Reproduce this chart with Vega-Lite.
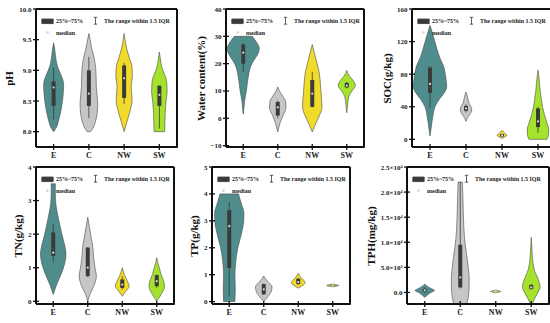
{
"$schema": "https://vega.github.io/schema/vega-lite/v6.json",
"padding": {"left": 3, "top": 4, "right": 4, "bottom": 2},
"datasets": {
"vio": [
{"p":"pH","g":"E","v":8.0,"d":0},{"p":"pH","g":"E","v":8.05,"d":0.12},{"p":"pH","g":"E","v":8.2,"d":0.3},{"p":"pH","g":"E","v":8.4,"d":0.45},{"p":"pH","g":"E","v":8.6,"d":0.54},{"p":"pH","g":"E","v":8.75,"d":0.57},{"p":"pH","g":"E","v":8.85,"d":0.52},{"p":"pH","g":"E","v":8.95,"d":0.38},{"p":"pH","g":"E","v":9.05,"d":0.24},{"p":"pH","g":"E","v":9.15,"d":0.15},{"p":"pH","g":"E","v":9.25,"d":0.1},{"p":"pH","g":"E","v":9.35,"d":0.06},{"p":"pH","g":"E","v":9.45,"d":0},
{"p":"pH","g":"C","v":8.0,"d":0.1},{"p":"pH","g":"C","v":8.05,"d":0.22},{"p":"pH","g":"C","v":8.15,"d":0.36},{"p":"pH","g":"C","v":8.3,"d":0.47},{"p":"pH","g":"C","v":8.45,"d":0.5},{"p":"pH","g":"C","v":8.6,"d":0.46},{"p":"pH","g":"C","v":8.75,"d":0.42},{"p":"pH","g":"C","v":8.9,"d":0.41},{"p":"pH","g":"C","v":9.05,"d":0.38},{"p":"pH","g":"C","v":9.2,"d":0.3},{"p":"pH","g":"C","v":9.35,"d":0.17},{"p":"pH","g":"C","v":9.5,"d":0.07},{"p":"pH","g":"C","v":9.6,"d":0},
{"p":"pH","g":"NW","v":8.0,"d":0},{"p":"pH","g":"NW","v":8.15,"d":0.15},{"p":"pH","g":"NW","v":8.35,"d":0.35},{"p":"pH","g":"NW","v":8.5,"d":0.45},{"p":"pH","g":"NW","v":8.65,"d":0.42},{"p":"pH","g":"NW","v":8.75,"d":0.4},{"p":"pH","g":"NW","v":8.9,"d":0.47},{"p":"pH","g":"NW","v":9.05,"d":0.45},{"p":"pH","g":"NW","v":9.2,"d":0.3},{"p":"pH","g":"NW","v":9.35,"d":0.15},{"p":"pH","g":"NW","v":9.5,"d":0.05},{"p":"pH","g":"NW","v":9.6,"d":0},
{"p":"pH","g":"SW","v":8.0,"d":0.3},{"p":"pH","g":"SW","v":8.1,"d":0.31},{"p":"pH","g":"SW","v":8.3,"d":0.33},{"p":"pH","g":"SW","v":8.5,"d":0.38},{"p":"pH","g":"SW","v":8.65,"d":0.44},{"p":"pH","g":"SW","v":8.8,"d":0.42},{"p":"pH","g":"SW","v":8.9,"d":0.34},{"p":"pH","g":"SW","v":9.0,"d":0.2},{"p":"pH","g":"SW","v":9.1,"d":0.1},{"p":"pH","g":"SW","v":9.2,"d":0.05},{"p":"pH","g":"SW","v":9.3,"d":0},
{"p":"W","g":"E","v":1.5,"d":0},{"p":"W","g":"E","v":3,"d":0.03},{"p":"W","g":"E","v":6,"d":0.07},{"p":"W","g":"E","v":10,"d":0.18},{"p":"W","g":"E","v":13,"d":0.24},{"p":"W","g":"E","v":15,"d":0.29},{"p":"W","g":"E","v":18,"d":0.38},{"p":"W","g":"E","v":20,"d":0.5},{"p":"W","g":"E","v":22,"d":0.7},{"p":"W","g":"E","v":24,"d":0.88},{"p":"W","g":"E","v":25.5,"d":0.93},{"p":"W","g":"E","v":27,"d":0.85},{"p":"W","g":"E","v":28.5,"d":0.7},{"p":"W","g":"E","v":30,"d":0.52},
{"p":"W","g":"C","v":-5,"d":0},{"p":"W","g":"C","v":-2,"d":0.12},{"p":"W","g":"C","v":1,"d":0.3},{"p":"W","g":"C","v":4,"d":0.48},{"p":"W","g":"C","v":6,"d":0.46},{"p":"W","g":"C","v":8,"d":0.3},{"p":"W","g":"C","v":10,"d":0.1},{"p":"W","g":"C","v":11.5,"d":0},
{"p":"W","g":"NW","v":-5,"d":0},{"p":"W","g":"NW","v":-2,"d":0.2},{"p":"W","g":"NW","v":1,"d":0.42},{"p":"W","g":"NW","v":4,"d":0.56},{"p":"W","g":"NW","v":8,"d":0.53},{"p":"W","g":"NW","v":12,"d":0.48},{"p":"W","g":"NW","v":16,"d":0.42},{"p":"W","g":"NW","v":19,"d":0.32},{"p":"W","g":"NW","v":22,"d":0.2},{"p":"W","g":"NW","v":24.5,"d":0.1},{"p":"W","g":"NW","v":27,"d":0},
{"p":"W","g":"SW","v":2,"d":0},{"p":"W","g":"SW","v":5,"d":0.05},{"p":"W","g":"SW","v":8,"d":0.12},{"p":"W","g":"SW","v":10,"d":0.3},{"p":"W","g":"SW","v":12,"d":0.5},{"p":"W","g":"SW","v":14,"d":0.35},{"p":"W","g":"SW","v":15.5,"d":0.15},{"p":"W","g":"SW","v":17.5,"d":0},
{"p":"SOC","g":"E","v":4,"d":0},{"p":"SOC","g":"E","v":10,"d":0.04},{"p":"SOC","g":"E","v":20,"d":0.1},{"p":"SOC","g":"E","v":30,"d":0.17},{"p":"SOC","g":"E","v":40,"d":0.28},{"p":"SOC","g":"E","v":50,"d":0.55},{"p":"SOC","g":"E","v":58,"d":0.82},{"p":"SOC","g":"E","v":65,"d":0.93},{"p":"SOC","g":"E","v":72,"d":0.9},{"p":"SOC","g":"E","v":80,"d":0.85},{"p":"SOC","g":"E","v":90,"d":0.75},{"p":"SOC","g":"E","v":100,"d":0.55},{"p":"SOC","g":"E","v":110,"d":0.4},{"p":"SOC","g":"E","v":120,"d":0.27},{"p":"SOC","g":"E","v":130,"d":0.14},{"p":"SOC","g":"E","v":140,"d":0},
{"p":"SOC","g":"C","v":22,"d":0},{"p":"SOC","g":"C","v":27,"d":0.1},{"p":"SOC","g":"C","v":32,"d":0.25},{"p":"SOC","g":"C","v":36,"d":0.32},{"p":"SOC","g":"C","v":40,"d":0.28},{"p":"SOC","g":"C","v":44,"d":0.18},{"p":"SOC","g":"C","v":50,"d":0.1},{"p":"SOC","g":"C","v":55,"d":0.05},{"p":"SOC","g":"C","v":58,"d":0},
{"p":"SOC","g":"NW","v":1,"d":0},{"p":"SOC","g":"NW","v":3,"d":0.15},{"p":"SOC","g":"NW","v":5,"d":0.28},{"p":"SOC","g":"NW","v":7,"d":0.18},{"p":"SOC","g":"NW","v":9,"d":0.08},{"p":"SOC","g":"NW","v":11,"d":0},
{"p":"SOC","g":"SW","v":0,"d":0.5},{"p":"SOC","g":"SW","v":5,"d":0.58},{"p":"SOC","g":"SW","v":12,"d":0.6},{"p":"SOC","g":"SW","v":20,"d":0.5},{"p":"SOC","g":"SW","v":30,"d":0.36},{"p":"SOC","g":"SW","v":40,"d":0.25},{"p":"SOC","g":"SW","v":50,"d":0.18},{"p":"SOC","g":"SW","v":60,"d":0.12},{"p":"SOC","g":"SW","v":70,"d":0.08},{"p":"SOC","g":"SW","v":80,"d":0.03},{"p":"SOC","g":"SW","v":85,"d":0},
{"p":"TN","g":"E","v":0.2,"d":0},{"p":"TN","g":"E","v":0.5,"d":0.2},{"p":"TN","g":"E","v":0.8,"d":0.45},{"p":"TN","g":"E","v":1.1,"d":0.65},{"p":"TN","g":"E","v":1.4,"d":0.74},{"p":"TN","g":"E","v":1.7,"d":0.65},{"p":"TN","g":"E","v":2.0,"d":0.5},{"p":"TN","g":"E","v":2.3,"d":0.37},{"p":"TN","g":"E","v":2.6,"d":0.25},{"p":"TN","g":"E","v":2.9,"d":0.15},{"p":"TN","g":"E","v":3.2,"d":0.12},{"p":"TN","g":"E","v":3.5,"d":0.12},
{"p":"TN","g":"C","v":0,"d":0},{"p":"TN","g":"C","v":0.2,"d":0.12},{"p":"TN","g":"C","v":0.45,"d":0.35},{"p":"TN","g":"C","v":0.75,"d":0.5},{"p":"TN","g":"C","v":1.0,"d":0.42},{"p":"TN","g":"C","v":1.3,"d":0.34},{"p":"TN","g":"C","v":1.6,"d":0.3},{"p":"TN","g":"C","v":1.9,"d":0.2},{"p":"TN","g":"C","v":2.2,"d":0.1},{"p":"TN","g":"C","v":2.5,"d":0},
{"p":"TN","g":"NW","v":0.15,"d":0},{"p":"TN","g":"NW","v":0.3,"d":0.2},{"p":"TN","g":"NW","v":0.45,"d":0.4},{"p":"TN","g":"NW","v":0.6,"d":0.3},{"p":"TN","g":"NW","v":0.8,"d":0.12},{"p":"TN","g":"NW","v":1.0,"d":0},
{"p":"TN","g":"SW","v":0,"d":0},{"p":"TN","g":"SW","v":0.2,"d":0.25},{"p":"TN","g":"SW","v":0.45,"d":0.45},{"p":"TN","g":"SW","v":0.6,"d":0.4},{"p":"TN","g":"SW","v":0.8,"d":0.25},{"p":"TN","g":"SW","v":1.0,"d":0.15},{"p":"TN","g":"SW","v":1.15,"d":0.06},{"p":"TN","g":"SW","v":1.3,"d":0},
{"p":"TP","g":"E","v":0,"d":0.33},{"p":"TP","g":"E","v":0.5,"d":0.35},{"p":"TP","g":"E","v":1.0,"d":0.33},{"p":"TP","g":"E","v":1.5,"d":0.38},{"p":"TP","g":"E","v":2.0,"d":0.5},{"p":"TP","g":"E","v":2.5,"d":0.7},{"p":"TP","g":"E","v":3.0,"d":0.84},{"p":"TP","g":"E","v":3.3,"d":0.85},{"p":"TP","g":"E","v":3.6,"d":0.72},{"p":"TP","g":"E","v":3.85,"d":0.6},{"p":"TP","g":"E","v":4.0,"d":0.54},
{"p":"TP","g":"C","v":0,"d":0},{"p":"TP","g":"C","v":0.15,"d":0.2},{"p":"TP","g":"C","v":0.4,"d":0.45},{"p":"TP","g":"C","v":0.55,"d":0.48},{"p":"TP","g":"C","v":0.7,"d":0.3},{"p":"TP","g":"C","v":0.85,"d":0.1},{"p":"TP","g":"C","v":0.95,"d":0},
{"p":"TP","g":"NW","v":0.5,"d":0},{"p":"TP","g":"NW","v":0.6,"d":0.25},{"p":"TP","g":"NW","v":0.7,"d":0.4},{"p":"TP","g":"NW","v":0.8,"d":0.3},{"p":"TP","g":"NW","v":0.9,"d":0.15},{"p":"TP","g":"NW","v":1.05,"d":0},
{"p":"TP","g":"SW","v":0.55,"d":0},{"p":"TP","g":"SW","v":0.58,"d":0.25},{"p":"TP","g":"SW","v":0.6,"d":0.35},{"p":"TP","g":"SW","v":0.62,"d":0.25},{"p":"TP","g":"SW","v":0.65,"d":0},
{"p":"TPH","g":"E","v":-1000,"d":0},{"p":"TPH","g":"E","v":-500,"d":0.15},{"p":"TPH","g":"E","v":0,"d":0.35},{"p":"TPH","g":"E","v":400,"d":0.55},{"p":"TPH","g":"E","v":800,"d":0.35},{"p":"TPH","g":"E","v":1200,"d":0.15},{"p":"TPH","g":"E","v":1700,"d":0},
{"p":"TPH","g":"C","v":-2300,"d":0.37},{"p":"TPH","g":"C","v":-1000,"d":0.45},{"p":"TPH","g":"C","v":1000,"d":0.5},{"p":"TPH","g":"C","v":3000,"d":0.5},{"p":"TPH","g":"C","v":5000,"d":0.45},{"p":"TPH","g":"C","v":7000,"d":0.38},{"p":"TPH","g":"C","v":9000,"d":0.3},{"p":"TPH","g":"C","v":11000,"d":0.24},{"p":"TPH","g":"C","v":13000,"d":0.2},{"p":"TPH","g":"C","v":16000,"d":0.17},{"p":"TPH","g":"C","v":19000,"d":0.15},{"p":"TPH","g":"C","v":22000,"d":0.12},
{"p":"TPH","g":"NW","v":-100,"d":0},{"p":"TPH","g":"NW","v":100,"d":0.2},{"p":"TPH","g":"NW","v":200,"d":0.3},{"p":"TPH","g":"NW","v":300,"d":0.2},{"p":"TPH","g":"NW","v":500,"d":0},
{"p":"TPH","g":"SW","v":-2300,"d":0.05},{"p":"TPH","g":"SW","v":-1500,"d":0.15},{"p":"TPH","g":"SW","v":-500,"d":0.3},{"p":"TPH","g":"SW","v":500,"d":0.45},{"p":"TPH","g":"SW","v":1200,"d":0.5},{"p":"TPH","g":"SW","v":2000,"d":0.45},{"p":"TPH","g":"SW","v":3000,"d":0.35},{"p":"TPH","g":"SW","v":4000,"d":0.22},{"p":"TPH","g":"SW","v":5000,"d":0.14},{"p":"TPH","g":"SW","v":6500,"d":0.08},{"p":"TPH","g":"SW","v":8500,"d":0.04},{"p":"TPH","g":"SW","v":11000,"d":0}
],
"stat": [
{"p":"pH","g":"E","lo":8.2,"q1":8.42,"med":8.72,"q3":8.82,"hi":9.05},
{"p":"pH","g":"C","lo":8.22,"q1":8.42,"med":8.62,"q3":9.0,"hi":9.22},
{"p":"pH","g":"NW","lo":8.45,"q1":8.55,"med":8.87,"q3":9.08,"hi":9.12},
{"p":"pH","g":"SW","lo":8.05,"q1":8.42,"med":8.6,"q3":8.75,"hi":8.75},
{"p":"W","g":"E","lo":17,"q1":20,"med":24,"q3":27,"hi":27.5},
{"p":"W","g":"C","lo":0,"q1":1,"med":4,"q3":6,"hi":6.5},
{"p":"W","g":"NW","lo":4,"q1":4.2,"med":9,"q3":14,"hi":17},
{"p":"W","g":"SW","lo":11,"q1":11.3,"med":12,"q3":13,"hi":13.2},
{"p":"SOC","g":"E","lo":38,"q1":57,"med":68,"q3":88,"hi":90},
{"p":"SOC","g":"C","lo":33,"q1":35,"med":38,"q3":41,"hi":43},
{"p":"SOC","g":"NW","lo":3,"q1":3.5,"med":5,"q3":6.5,"hi":7},
{"p":"SOC","g":"SW","lo":8,"q1":15,"med":22,"q3":38,"hi":40},
{"p":"TN","g":"E","lo":1.15,"q1":1.35,"med":1.45,"q3":2.05,"hi":2.3},
{"p":"TN","g":"C","lo":0.72,"q1":0.75,"med":1.0,"q3":1.6,"hi":1.62},
{"p":"TN","g":"NW","lo":0.35,"q1":0.4,"med":0.5,"q3":0.65,"hi":0.75},
{"p":"TN","g":"SW","lo":0.4,"q1":0.45,"med":0.6,"q3":0.78,"hi":0.8},
{"p":"TP","g":"E","lo":0.2,"q1":1.25,"med":2.8,"q3":3.4,"hi":3.7},
{"p":"TP","g":"C","lo":0.25,"q1":0.27,"med":0.45,"q3":0.65,"hi":0.67},
{"p":"TP","g":"NW","lo":0.62,"q1":0.65,"med":0.72,"q3":0.85,"hi":0.87},
{"p":"TP","g":"SW","lo":0.59,"q1":0.595,"med":0.6,"q3":0.61,"hi":0.615},
{"p":"TPH","g":"E","lo":-200,"q1":100,"med":400,"q3":700,"hi":1000},
{"p":"TPH","g":"C","lo":800,"q1":1000,"med":3000,"q3":9500,"hi":22000},
{"p":"TPH","g":"NW","lo":150,"q1":180,"med":200,"q3":230,"hi":250},
{"p":"TPH","g":"SW","lo":500,"q1":700,"med":1000,"q3":1500,"hi":1700}
]
},
"resolve": {"scale": {"color": "independent"}, "legend": {"color": "independent"}},
"spacing": 2,
"vconcat": [
{"spacing": 15, "hconcat": [
{"width": 141, "height": 138,
 "resolve": {"scale": {"x": "independent"}, "axis": {"x": "independent"}},
 "layer": [
  {"data": {"name": "vio"}, "transform": [{"filter": "datum.p==='pH' && datum.g==='E'"}], "mark": {"type": "area", "orient": "horizontal", "interpolate": "monotone", "fill": "#4f8d8d", "stroke": "#4a4a4a", "strokeWidth": 0.6, "clip": true},
   "encoding": {"x": {"field": "d", "type": "quantitative", "stack": "center", "scale": {"domain": [-0.215, 3.785], "nice": false, "zero": false}, "axis": null},
    "y": {"field": "v", "type": "quantitative", "scale": {"domain": [7.75, 10], "nice": false, "zero": false}, "axis": {"title": "pH", "values": [8, 8.5, 9, 9.5, 10], "format": ".1f"}}}},
  {"data": {"name": "vio"}, "transform": [{"filter": "datum.p==='pH' && datum.g==='C'"}], "mark": {"type": "area", "orient": "horizontal", "interpolate": "monotone", "fill": "#c6c6c6", "stroke": "#4a4a4a", "strokeWidth": 0.6, "clip": true},
   "encoding": {"x": {"field": "d", "type": "quantitative", "stack": "center", "scale": {"domain": [-1.25, 2.75], "nice": false, "zero": false}, "axis": null},
    "y": {"field": "v", "type": "quantitative", "scale": {"domain": [7.75, 10], "nice": false, "zero": false}, "axis": {"title": "pH", "values": [8, 8.5, 9, 9.5, 10], "format": ".1f"}}}},
  {"data": {"name": "vio"}, "transform": [{"filter": "datum.p==='pH' && datum.g==='NW'"}], "mark": {"type": "area", "orient": "horizontal", "interpolate": "monotone", "fill": "#f0da2a", "stroke": "#4a4a4a", "strokeWidth": 0.6, "clip": true},
   "encoding": {"x": {"field": "d", "type": "quantitative", "stack": "center", "scale": {"domain": [-2.265, 1.735], "nice": false, "zero": false}, "axis": null},
    "y": {"field": "v", "type": "quantitative", "scale": {"domain": [7.75, 10], "nice": false, "zero": false}, "axis": {"title": "pH", "values": [8, 8.5, 9, 9.5, 10], "format": ".1f"}}}},
  {"data": {"name": "vio"}, "transform": [{"filter": "datum.p==='pH' && datum.g==='SW'"}], "mark": {"type": "area", "orient": "horizontal", "interpolate": "monotone", "fill": "#a4e22c", "stroke": "#4a4a4a", "strokeWidth": 0.6, "clip": true},
   "encoding": {"x": {"field": "d", "type": "quantitative", "stack": "center", "scale": {"domain": [-3.28, 0.72], "nice": false, "zero": false}, "axis": null},
    "y": {"field": "v", "type": "quantitative", "scale": {"domain": [7.75, 10], "nice": false, "zero": false}, "axis": {"title": "pH", "values": [8, 8.5, 9, 9.5, 10], "format": ".1f"}}}},
  {"data": {"name": "stat"}, "transform": [{"filter": "datum.p==='pH'"}],
   "encoding": {"x": {"field": "g", "type": "nominal", "scale": {"type": "band", "domain": ["E", "C", "NW", "SW"], "paddingInner": 0, "paddingOuter": 0}, "axis": {"title": null}}},
   "layer": [
    {"mark": {"type": "rule", "strokeWidth": 0.8}, "encoding": {"y": {"field": "lo", "type": "quantitative", "scale": {"domain": [7.75, 10], "nice": false, "zero": false}, "axis": {"title": "pH", "values": [8, 8.5, 9, 9.5, 10], "format": ".1f"}}, "y2": {"field": "hi"},
      "color": {"datum": "The range within 1.5 IQR", "type": "nominal", "scale": {"domain": ["25%~75%", "The range within 1.5 IQR", "median"], "range": ["#3a3a3a", "#3a3a3a", "#d8d8d8"]},
       "legend": {"title": null, "encode": {"symbols": {"update": {"shape": {"signal": "datum.label === 'median' ? 'circle' : datum.label === '25%~75%' ? 'M-1,-0.4H1V0.4H-1Z' : 'M0,-0.6V0.6M-0.3,-0.6H0.3M-0.3,0.6H0.3'"}, "size": {"signal": "datum.label === 'median' ? 5 : 130"}, "fill": {"signal": "datum.label === 'The range within 1.5 IQR' ? 'transparent' : datum.label === 'median' ? '#aaaaaa' : '#3a3a3a'"}, "stroke": {"signal": "datum.label === 'median' ? '#aaaaaa' : '#3a3a3a'"}, "strokeWidth": {"value": 0.8}, "opacity": {"value": 1}}}}}}}},
    {"mark": {"type": "bar", "width": 4}, "encoding": {"y": {"field": "q1", "type": "quantitative", "scale": {"domain": [7.75, 10], "nice": false, "zero": false}, "axis": {"title": "pH", "values": [8, 8.5, 9, 9.5, 10], "format": ".1f"}}, "y2": {"field": "q3"}, "color": {"datum": "25%~75%", "type": "nominal"}}},
    {"mark": {"type": "point", "filled": true, "size": 5, "opacity": 1}, "encoding": {"y": {"field": "med", "type": "quantitative", "scale": {"domain": [7.75, 10], "nice": false, "zero": false}, "axis": {"title": "pH", "values": [8, 8.5, 9, 9.5, 10], "format": ".1f"}}, "color": {"datum": "median", "type": "nominal"}}},
    {"mark": {"type": "tick", "orient": "vertical", "size": 6, "thickness": 1.3, "color": "#111111", "opacity": 1}, "encoding": {"y": {"datum": 7.75, "type": "quantitative", "scale": {"domain": [7.75, 10], "nice": false, "zero": false}, "axis": {"title": "pH", "values": [8, 8.5, 9, 9.5, 10], "format": ".1f"}}}}
   ]},
  {"data": {"name": "stat"}, "transform": [{"filter": "datum.p==='pH'"}],
   "encoding": {"x": {"datum": 0, "type": "quantitative", "scale": {"domain": [0, 1], "nice": false, "zero": false}, "axis": null}},
   "layer": [
    {"mark": {"type": "rule", "color": "#111111", "strokeWidth": 1.8}, "encoding": {"x2": {"datum": 1}, "y": {"datum": 10, "type": "quantitative", "scale": {"domain": [7.75, 10], "nice": false, "zero": false}, "axis": {"title": "pH", "values": [8, 8.5, 9, 9.5, 10], "format": ".1f"}}}},
    {"mark": {"type": "rule", "color": "#111111", "strokeWidth": 1.8}, "encoding": {"x2": {"datum": 1}, "y": {"datum": 7.75, "type": "quantitative", "scale": {"domain": [7.75, 10], "nice": false, "zero": false}, "axis": {"title": "pH", "values": [8, 8.5, 9, 9.5, 10], "format": ".1f"}}}},
    {"mark": {"type": "rule", "color": "#111111", "strokeWidth": 1.8}, "encoding": {"y": {"datum": 7.75, "type": "quantitative", "scale": {"domain": [7.75, 10], "nice": false, "zero": false}, "axis": {"title": "pH", "values": [8, 8.5, 9, 9.5, 10], "format": ".1f"}}, "y2": {"datum": 10}}},
    {"mark": {"type": "rule", "color": "#111111", "strokeWidth": 1.8}, "encoding": {"x": {"datum": 1, "type": "quantitative", "scale": {"domain": [0, 1], "nice": false, "zero": false}, "axis": null}, "y": {"datum": 7.75, "type": "quantitative", "scale": {"domain": [7.75, 10], "nice": false, "zero": false}, "axis": {"title": "pH", "values": [8, 8.5, 9, 9.5, 10], "format": ".1f"}}, "y2": {"datum": 10}}},
    {"data": {"values": [{"t": 8}, {"t": 8.5}, {"t": 9}, {"t": 9.5}, {"t": 10}]}, "transform": [], "mark": {"type": "tick", "orient": "horizontal", "size": 6, "thickness": 1.3, "color": "#111111", "opacity": 1}, "encoding": {"y": {"field": "t", "type": "quantitative", "scale": {"domain": [7.75, 10], "nice": false, "zero": false}, "axis": {"title": "pH", "values": [8, 8.5, 9, 9.5, 10], "format": ".1f"}}}}
   ]}
 ]},
{"width": 138, "height": 138,
 "resolve": {"scale": {"x": "independent"}, "axis": {"x": "independent"}},
 "layer": [
  {"data": {"name": "vio"}, "transform": [{"filter": "datum.p==='W' && datum.g==='E'"}], "mark": {"type": "area", "orient": "horizontal", "interpolate": "monotone", "fill": "#4f8d8d", "stroke": "#4a4a4a", "strokeWidth": 0.6, "clip": true},
   "encoding": {"x": {"field": "d", "type": "quantitative", "stack": "center", "scale": {"domain": [-0.035, 3.965], "nice": false, "zero": false}, "axis": null},
    "y": {"field": "v", "type": "quantitative", "scale": {"domain": [-10.5, 40], "nice": false, "zero": false}, "axis": {"title": "Water content(%)", "values": [-10, 0, 10, 20, 30, 40]}}}},
  {"data": {"name": "vio"}, "transform": [{"filter": "datum.p==='W' && datum.g==='C'"}], "mark": {"type": "area", "orient": "horizontal", "interpolate": "monotone", "fill": "#c6c6c6", "stroke": "#4a4a4a", "strokeWidth": 0.6, "clip": true},
   "encoding": {"x": {"field": "d", "type": "quantitative", "stack": "center", "scale": {"domain": [-1.26, 2.74], "nice": false, "zero": false}, "axis": null},
    "y": {"field": "v", "type": "quantitative", "scale": {"domain": [-10.5, 40], "nice": false, "zero": false}, "axis": {"title": "Water content(%)", "values": [-10, 0, 10, 20, 30, 40]}}}},
  {"data": {"name": "vio"}, "transform": [{"filter": "datum.p==='W' && datum.g==='NW'"}], "mark": {"type": "area", "orient": "horizontal", "interpolate": "monotone", "fill": "#f0da2a", "stroke": "#4a4a4a", "strokeWidth": 0.6, "clip": true},
   "encoding": {"x": {"field": "d", "type": "quantitative", "stack": "center", "scale": {"domain": [-2.22, 1.78], "nice": false, "zero": false}, "axis": null},
    "y": {"field": "v", "type": "quantitative", "scale": {"domain": [-10.5, 40], "nice": false, "zero": false}, "axis": {"title": "Water content(%)", "values": [-10, 0, 10, 20, 30, 40]}}}},
  {"data": {"name": "vio"}, "transform": [{"filter": "datum.p==='W' && datum.g==='SW'"}], "mark": {"type": "area", "orient": "horizontal", "interpolate": "monotone", "fill": "#a4e22c", "stroke": "#4a4a4a", "strokeWidth": 0.6, "clip": true},
   "encoding": {"x": {"field": "d", "type": "quantitative", "stack": "center", "scale": {"domain": [-3.25, 0.75], "nice": false, "zero": false}, "axis": null},
    "y": {"field": "v", "type": "quantitative", "scale": {"domain": [-10.5, 40], "nice": false, "zero": false}, "axis": {"title": "Water content(%)", "values": [-10, 0, 10, 20, 30, 40]}}}},
  {"data": {"name": "stat"}, "transform": [{"filter": "datum.p==='W'"}],
   "encoding": {"x": {"field": "g", "type": "nominal", "scale": {"type": "band", "domain": ["E", "C", "NW", "SW"], "paddingInner": 0, "paddingOuter": 0}, "axis": {"title": null}}},
   "layer": [
    {"mark": {"type": "rule", "strokeWidth": 0.8}, "encoding": {"y": {"field": "lo", "type": "quantitative", "scale": {"domain": [-10.5, 40], "nice": false, "zero": false}, "axis": {"title": "Water content(%)", "values": [-10, 0, 10, 20, 30, 40]}}, "y2": {"field": "hi"},
      "color": {"datum": "The range within 1.5 IQR", "type": "nominal", "scale": {"domain": ["25%~75%", "The range within 1.5 IQR", "median"], "range": ["#3a3a3a", "#3a3a3a", "#d8d8d8"]},
       "legend": {"title": null, "encode": {"symbols": {"update": {"shape": {"signal": "datum.label === 'median' ? 'circle' : datum.label === '25%~75%' ? 'M-1,-0.4H1V0.4H-1Z' : 'M0,-0.6V0.6M-0.3,-0.6H0.3M-0.3,0.6H0.3'"}, "size": {"signal": "datum.label === 'median' ? 5 : 130"}, "fill": {"signal": "datum.label === 'The range within 1.5 IQR' ? 'transparent' : datum.label === 'median' ? '#aaaaaa' : '#3a3a3a'"}, "stroke": {"signal": "datum.label === 'median' ? '#aaaaaa' : '#3a3a3a'"}, "strokeWidth": {"value": 0.8}, "opacity": {"value": 1}}}}}}}},
    {"mark": {"type": "bar", "width": 4}, "encoding": {"y": {"field": "q1", "type": "quantitative", "scale": {"domain": [-10.5, 40], "nice": false, "zero": false}, "axis": {"title": "Water content(%)", "values": [-10, 0, 10, 20, 30, 40]}}, "y2": {"field": "q3"}, "color": {"datum": "25%~75%", "type": "nominal"}}},
    {"mark": {"type": "point", "filled": true, "size": 5, "opacity": 1}, "encoding": {"y": {"field": "med", "type": "quantitative", "scale": {"domain": [-10.5, 40], "nice": false, "zero": false}, "axis": {"title": "Water content(%)", "values": [-10, 0, 10, 20, 30, 40]}}, "color": {"datum": "median", "type": "nominal"}}},
    {"mark": {"type": "tick", "orient": "vertical", "size": 6, "thickness": 1.3, "color": "#111111", "opacity": 1}, "encoding": {"y": {"datum": -10.5, "type": "quantitative", "scale": {"domain": [-10.5, 40], "nice": false, "zero": false}, "axis": {"title": "Water content(%)", "values": [-10, 0, 10, 20, 30, 40]}}}}
   ]},
  {"data": {"name": "stat"}, "transform": [{"filter": "datum.p==='W'"}],
   "encoding": {"x": {"datum": 0, "type": "quantitative", "scale": {"domain": [0, 1], "nice": false, "zero": false}, "axis": null}},
   "layer": [
    {"mark": {"type": "rule", "color": "#111111", "strokeWidth": 1.8}, "encoding": {"x2": {"datum": 1}, "y": {"datum": 40, "type": "quantitative", "scale": {"domain": [-10.5, 40], "nice": false, "zero": false}, "axis": {"title": "Water content(%)", "values": [-10, 0, 10, 20, 30, 40]}}}},
    {"mark": {"type": "rule", "color": "#111111", "strokeWidth": 1.8}, "encoding": {"x2": {"datum": 1}, "y": {"datum": -10.5, "type": "quantitative", "scale": {"domain": [-10.5, 40], "nice": false, "zero": false}, "axis": {"title": "Water content(%)", "values": [-10, 0, 10, 20, 30, 40]}}}},
    {"mark": {"type": "rule", "color": "#111111", "strokeWidth": 1.8}, "encoding": {"y": {"datum": -10.5, "type": "quantitative", "scale": {"domain": [-10.5, 40], "nice": false, "zero": false}, "axis": {"title": "Water content(%)", "values": [-10, 0, 10, 20, 30, 40]}}, "y2": {"datum": 40}}},
    {"mark": {"type": "rule", "color": "#111111", "strokeWidth": 1.8}, "encoding": {"x": {"datum": 1, "type": "quantitative", "scale": {"domain": [0, 1], "nice": false, "zero": false}, "axis": null}, "y": {"datum": -10.5, "type": "quantitative", "scale": {"domain": [-10.5, 40], "nice": false, "zero": false}, "axis": {"title": "Water content(%)", "values": [-10, 0, 10, 20, 30, 40]}}, "y2": {"datum": 40}}},
    {"data": {"values": [{"t": -10}, {"t": 0}, {"t": 10}, {"t": 20}, {"t": 30}, {"t": 40}]}, "transform": [], "mark": {"type": "tick", "orient": "horizontal", "size": 6, "thickness": 1.3, "color": "#111111", "opacity": 1}, "encoding": {"y": {"field": "t", "type": "quantitative", "scale": {"domain": [-10.5, 40], "nice": false, "zero": false}, "axis": {"title": "Water content(%)", "values": [-10, 0, 10, 20, 30, 40]}}}}
   ]}
 ]},
{"width": 144, "height": 138,
 "resolve": {"scale": {"x": "independent"}, "axis": {"x": "independent"}},
 "layer": [
  {"data": {"name": "vio"}, "transform": [{"filter": "datum.p==='SOC' && datum.g==='E'"}], "mark": {"type": "area", "orient": "horizontal", "interpolate": "monotone", "fill": "#4f8d8d", "stroke": "#4a4a4a", "strokeWidth": 0.6, "clip": true},
   "encoding": {"x": {"field": "d", "type": "quantitative", "stack": "center", "scale": {"domain": [-0.035, 3.965], "nice": false, "zero": false}, "axis": null},
    "y": {"field": "v", "type": "quantitative", "scale": {"domain": [-9.4, 160], "nice": false, "zero": false}, "axis": {"title": "SOC(g/kg)", "values": [0, 40, 80, 120, 160]}}}},
  {"data": {"name": "vio"}, "transform": [{"filter": "datum.p==='SOC' && datum.g==='C'"}], "mark": {"type": "area", "orient": "horizontal", "interpolate": "monotone", "fill": "#c6c6c6", "stroke": "#4a4a4a", "strokeWidth": 0.6, "clip": true},
   "encoding": {"x": {"field": "d", "type": "quantitative", "stack": "center", "scale": {"domain": [-1.34, 2.66], "nice": false, "zero": false}, "axis": null},
    "y": {"field": "v", "type": "quantitative", "scale": {"domain": [-9.4, 160], "nice": false, "zero": false}, "axis": {"title": "SOC(g/kg)", "values": [0, 40, 80, 120, 160]}}}},
  {"data": {"name": "vio"}, "transform": [{"filter": "datum.p==='SOC' && datum.g==='NW'"}], "mark": {"type": "area", "orient": "horizontal", "interpolate": "monotone", "fill": "#f0da2a", "stroke": "#4a4a4a", "strokeWidth": 0.6, "clip": true},
   "encoding": {"x": {"field": "d", "type": "quantitative", "stack": "center", "scale": {"domain": [-2.36, 1.64], "nice": false, "zero": false}, "axis": null},
    "y": {"field": "v", "type": "quantitative", "scale": {"domain": [-9.4, 160], "nice": false, "zero": false}, "axis": {"title": "SOC(g/kg)", "values": [0, 40, 80, 120, 160]}}}},
  {"data": {"name": "vio"}, "transform": [{"filter": "datum.p==='SOC' && datum.g==='SW'"}], "mark": {"type": "area", "orient": "horizontal", "interpolate": "monotone", "fill": "#a4e22c", "stroke": "#4a4a4a", "strokeWidth": 0.6, "clip": true},
   "encoding": {"x": {"field": "d", "type": "quantitative", "stack": "center", "scale": {"domain": [-3.2, 0.8], "nice": false, "zero": false}, "axis": null},
    "y": {"field": "v", "type": "quantitative", "scale": {"domain": [-9.4, 160], "nice": false, "zero": false}, "axis": {"title": "SOC(g/kg)", "values": [0, 40, 80, 120, 160]}}}},
  {"data": {"name": "stat"}, "transform": [{"filter": "datum.p==='SOC'"}],
   "encoding": {"x": {"field": "g", "type": "nominal", "scale": {"type": "band", "domain": ["E", "C", "NW", "SW"], "paddingInner": 0, "paddingOuter": 0}, "axis": {"title": null}}},
   "layer": [
    {"mark": {"type": "rule", "strokeWidth": 0.8}, "encoding": {"y": {"field": "lo", "type": "quantitative", "scale": {"domain": [-9.4, 160], "nice": false, "zero": false}, "axis": {"title": "SOC(g/kg)", "values": [0, 40, 80, 120, 160]}}, "y2": {"field": "hi"},
      "color": {"datum": "The range within 1.5 IQR", "type": "nominal", "scale": {"domain": ["25%~75%", "The range within 1.5 IQR", "median"], "range": ["#3a3a3a", "#3a3a3a", "#d8d8d8"]},
       "legend": {"title": null, "encode": {"symbols": {"update": {"shape": {"signal": "datum.label === 'median' ? 'circle' : datum.label === '25%~75%' ? 'M-1,-0.4H1V0.4H-1Z' : 'M0,-0.6V0.6M-0.3,-0.6H0.3M-0.3,0.6H0.3'"}, "size": {"signal": "datum.label === 'median' ? 5 : 130"}, "fill": {"signal": "datum.label === 'The range within 1.5 IQR' ? 'transparent' : datum.label === 'median' ? '#aaaaaa' : '#3a3a3a'"}, "stroke": {"signal": "datum.label === 'median' ? '#aaaaaa' : '#3a3a3a'"}, "strokeWidth": {"value": 0.8}, "opacity": {"value": 1}}}}}}}},
    {"mark": {"type": "bar", "width": 4}, "encoding": {"y": {"field": "q1", "type": "quantitative", "scale": {"domain": [-9.4, 160], "nice": false, "zero": false}, "axis": {"title": "SOC(g/kg)", "values": [0, 40, 80, 120, 160]}}, "y2": {"field": "q3"}, "color": {"datum": "25%~75%", "type": "nominal"}}},
    {"mark": {"type": "point", "filled": true, "size": 5, "opacity": 1}, "encoding": {"y": {"field": "med", "type": "quantitative", "scale": {"domain": [-9.4, 160], "nice": false, "zero": false}, "axis": {"title": "SOC(g/kg)", "values": [0, 40, 80, 120, 160]}}, "color": {"datum": "median", "type": "nominal"}}},
    {"mark": {"type": "tick", "orient": "vertical", "size": 6, "thickness": 1.3, "color": "#111111", "opacity": 1}, "encoding": {"y": {"datum": -9.4, "type": "quantitative", "scale": {"domain": [-9.4, 160], "nice": false, "zero": false}, "axis": {"title": "SOC(g/kg)", "values": [0, 40, 80, 120, 160]}}}}
   ]},
  {"data": {"name": "stat"}, "transform": [{"filter": "datum.p==='SOC'"}],
   "encoding": {"x": {"datum": 0, "type": "quantitative", "scale": {"domain": [0, 1], "nice": false, "zero": false}, "axis": null}},
   "layer": [
    {"mark": {"type": "rule", "color": "#111111", "strokeWidth": 1.8}, "encoding": {"x2": {"datum": 1}, "y": {"datum": 160, "type": "quantitative", "scale": {"domain": [-9.4, 160], "nice": false, "zero": false}, "axis": {"title": "SOC(g/kg)", "values": [0, 40, 80, 120, 160]}}}},
    {"mark": {"type": "rule", "color": "#111111", "strokeWidth": 1.8}, "encoding": {"x2": {"datum": 1}, "y": {"datum": -9.4, "type": "quantitative", "scale": {"domain": [-9.4, 160], "nice": false, "zero": false}, "axis": {"title": "SOC(g/kg)", "values": [0, 40, 80, 120, 160]}}}},
    {"mark": {"type": "rule", "color": "#111111", "strokeWidth": 1.8}, "encoding": {"y": {"datum": -9.4, "type": "quantitative", "scale": {"domain": [-9.4, 160], "nice": false, "zero": false}, "axis": {"title": "SOC(g/kg)", "values": [0, 40, 80, 120, 160]}}, "y2": {"datum": 160}}},
    {"mark": {"type": "rule", "color": "#111111", "strokeWidth": 1.8}, "encoding": {"x": {"datum": 1, "type": "quantitative", "scale": {"domain": [0, 1], "nice": false, "zero": false}, "axis": null}, "y": {"datum": -9.4, "type": "quantitative", "scale": {"domain": [-9.4, 160], "nice": false, "zero": false}, "axis": {"title": "SOC(g/kg)", "values": [0, 40, 80, 120, 160]}}, "y2": {"datum": 160}}},
    {"data": {"values": [{"t": 0}, {"t": 40}, {"t": 80}, {"t": 120}, {"t": 160}]}, "transform": [], "mark": {"type": "tick", "orient": "horizontal", "size": 6, "thickness": 1.3, "color": "#111111", "opacity": 1}, "encoding": {"y": {"field": "t", "type": "quantitative", "scale": {"domain": [-9.4, 160], "nice": false, "zero": false}, "axis": {"title": "SOC(g/kg)", "values": [0, 40, 80, 120, 160]}}}}
   ]}
 ]}
], "resolve": {"scale": {"color": "independent"}, "legend": {"color": "independent"}}},
{"spacing": 12, "hconcat": [
{"width": 138, "height": 137,
 "resolve": {"scale": {"x": "independent"}, "axis": {"x": "independent"}},
 "layer": [
  {"data": {"name": "vio"}, "transform": [{"filter": "datum.p==='TN' && datum.g==='E'"}], "mark": {"type": "area", "orient": "horizontal", "interpolate": "monotone", "fill": "#4f8d8d", "stroke": "#4a4a4a", "strokeWidth": 0.6, "clip": true},
   "encoding": {"x": {"field": "d", "type": "quantitative", "stack": "center", "scale": {"domain": [-0.13, 3.87], "nice": false, "zero": false}, "axis": null},
    "y": {"field": "v", "type": "quantitative", "scale": {"domain": [-0.08, 4], "nice": false, "zero": false}, "axis": {"title": "TN(g/kg)", "values": [0, 1, 2, 3, 4]}}}},
  {"data": {"name": "vio"}, "transform": [{"filter": "datum.p==='TN' && datum.g==='C'"}], "mark": {"type": "area", "orient": "horizontal", "interpolate": "monotone", "fill": "#c6c6c6", "stroke": "#4a4a4a", "strokeWidth": 0.6, "clip": true},
   "encoding": {"x": {"field": "d", "type": "quantitative", "stack": "center", "scale": {"domain": [-1.25, 2.75], "nice": false, "zero": false}, "axis": null},
    "y": {"field": "v", "type": "quantitative", "scale": {"domain": [-0.08, 4], "nice": false, "zero": false}, "axis": {"title": "TN(g/kg)", "values": [0, 1, 2, 3, 4]}}}},
  {"data": {"name": "vio"}, "transform": [{"filter": "datum.p==='TN' && datum.g==='NW'"}], "mark": {"type": "area", "orient": "horizontal", "interpolate": "monotone", "fill": "#f0da2a", "stroke": "#4a4a4a", "strokeWidth": 0.6, "clip": true},
   "encoding": {"x": {"field": "d", "type": "quantitative", "stack": "center", "scale": {"domain": [-2.3, 1.7], "nice": false, "zero": false}, "axis": null},
    "y": {"field": "v", "type": "quantitative", "scale": {"domain": [-0.08, 4], "nice": false, "zero": false}, "axis": {"title": "TN(g/kg)", "values": [0, 1, 2, 3, 4]}}}},
  {"data": {"name": "vio"}, "transform": [{"filter": "datum.p==='TN' && datum.g==='SW'"}], "mark": {"type": "area", "orient": "horizontal", "interpolate": "monotone", "fill": "#a4e22c", "stroke": "#4a4a4a", "strokeWidth": 0.6, "clip": true},
   "encoding": {"x": {"field": "d", "type": "quantitative", "stack": "center", "scale": {"domain": [-3.275, 0.725], "nice": false, "zero": false}, "axis": null},
    "y": {"field": "v", "type": "quantitative", "scale": {"domain": [-0.08, 4], "nice": false, "zero": false}, "axis": {"title": "TN(g/kg)", "values": [0, 1, 2, 3, 4]}}}},
  {"data": {"name": "stat"}, "transform": [{"filter": "datum.p==='TN'"}],
   "encoding": {"x": {"field": "g", "type": "nominal", "scale": {"type": "band", "domain": ["E", "C", "NW", "SW"], "paddingInner": 0, "paddingOuter": 0}, "axis": {"title": null}}},
   "layer": [
    {"mark": {"type": "rule", "strokeWidth": 0.8}, "encoding": {"y": {"field": "lo", "type": "quantitative", "scale": {"domain": [-0.08, 4], "nice": false, "zero": false}, "axis": {"title": "TN(g/kg)", "values": [0, 1, 2, 3, 4]}}, "y2": {"field": "hi"},
      "color": {"datum": "The range within 1.5 IQR", "type": "nominal", "scale": {"domain": ["25%~75%", "The range within 1.5 IQR", "median"], "range": ["#3a3a3a", "#3a3a3a", "#d8d8d8"]},
       "legend": {"title": null, "encode": {"symbols": {"update": {"shape": {"signal": "datum.label === 'median' ? 'circle' : datum.label === '25%~75%' ? 'M-1,-0.4H1V0.4H-1Z' : 'M0,-0.6V0.6M-0.3,-0.6H0.3M-0.3,0.6H0.3'"}, "size": {"signal": "datum.label === 'median' ? 5 : 130"}, "fill": {"signal": "datum.label === 'The range within 1.5 IQR' ? 'transparent' : datum.label === 'median' ? '#aaaaaa' : '#3a3a3a'"}, "stroke": {"signal": "datum.label === 'median' ? '#aaaaaa' : '#3a3a3a'"}, "strokeWidth": {"value": 0.8}, "opacity": {"value": 1}}}}}}}},
    {"mark": {"type": "bar", "width": 4}, "encoding": {"y": {"field": "q1", "type": "quantitative", "scale": {"domain": [-0.08, 4], "nice": false, "zero": false}, "axis": {"title": "TN(g/kg)", "values": [0, 1, 2, 3, 4]}}, "y2": {"field": "q3"}, "color": {"datum": "25%~75%", "type": "nominal"}}},
    {"mark": {"type": "point", "filled": true, "size": 5, "opacity": 1}, "encoding": {"y": {"field": "med", "type": "quantitative", "scale": {"domain": [-0.08, 4], "nice": false, "zero": false}, "axis": {"title": "TN(g/kg)", "values": [0, 1, 2, 3, 4]}}, "color": {"datum": "median", "type": "nominal"}}},
    {"mark": {"type": "tick", "orient": "vertical", "size": 6, "thickness": 1.3, "color": "#111111", "opacity": 1}, "encoding": {"y": {"datum": -0.08, "type": "quantitative", "scale": {"domain": [-0.08, 4], "nice": false, "zero": false}, "axis": {"title": "TN(g/kg)", "values": [0, 1, 2, 3, 4]}}}}
   ]},
  {"data": {"name": "stat"}, "transform": [{"filter": "datum.p==='TN'"}],
   "encoding": {"x": {"datum": 0, "type": "quantitative", "scale": {"domain": [0, 1], "nice": false, "zero": false}, "axis": null}},
   "layer": [
    {"mark": {"type": "rule", "color": "#111111", "strokeWidth": 1.8}, "encoding": {"x2": {"datum": 1}, "y": {"datum": 4, "type": "quantitative", "scale": {"domain": [-0.08, 4], "nice": false, "zero": false}, "axis": {"title": "TN(g/kg)", "values": [0, 1, 2, 3, 4]}}}},
    {"mark": {"type": "rule", "color": "#111111", "strokeWidth": 1.8}, "encoding": {"x2": {"datum": 1}, "y": {"datum": -0.08, "type": "quantitative", "scale": {"domain": [-0.08, 4], "nice": false, "zero": false}, "axis": {"title": "TN(g/kg)", "values": [0, 1, 2, 3, 4]}}}},
    {"mark": {"type": "rule", "color": "#111111", "strokeWidth": 1.8}, "encoding": {"y": {"datum": -0.08, "type": "quantitative", "scale": {"domain": [-0.08, 4], "nice": false, "zero": false}, "axis": {"title": "TN(g/kg)", "values": [0, 1, 2, 3, 4]}}, "y2": {"datum": 4}}},
    {"mark": {"type": "rule", "color": "#111111", "strokeWidth": 1.8}, "encoding": {"x": {"datum": 1, "type": "quantitative", "scale": {"domain": [0, 1], "nice": false, "zero": false}, "axis": null}, "y": {"datum": -0.08, "type": "quantitative", "scale": {"domain": [-0.08, 4], "nice": false, "zero": false}, "axis": {"title": "TN(g/kg)", "values": [0, 1, 2, 3, 4]}}, "y2": {"datum": 4}}},
    {"data": {"values": [{"t": 0}, {"t": 1}, {"t": 2}, {"t": 3}, {"t": 4}]}, "transform": [], "mark": {"type": "tick", "orient": "horizontal", "size": 6, "thickness": 1.3, "color": "#111111", "opacity": 1}, "encoding": {"y": {"field": "t", "type": "quantitative", "scale": {"domain": [-0.08, 4], "nice": false, "zero": false}, "axis": {"title": "TN(g/kg)", "values": [0, 1, 2, 3, 4]}}}}
   ]}
 ]},
{"width": 138, "height": 137,
 "resolve": {"scale": {"x": "independent"}, "axis": {"x": "independent"}},
 "layer": [
  {"data": {"name": "vio"}, "transform": [{"filter": "datum.p==='TP' && datum.g==='E'"}], "mark": {"type": "area", "orient": "horizontal", "interpolate": "monotone", "fill": "#4f8d8d", "stroke": "#4a4a4a", "strokeWidth": 0.6, "clip": true},
   "encoding": {"x": {"field": "d", "type": "quantitative", "stack": "center", "scale": {"domain": [-0.075, 3.925], "nice": false, "zero": false}, "axis": null},
    "y": {"field": "v", "type": "quantitative", "scale": {"domain": [-0.09, 5], "nice": false, "zero": false}, "axis": {"title": "TP(g/kg)", "values": [0, 1, 2, 3, 4, 5]}}}},
  {"data": {"name": "vio"}, "transform": [{"filter": "datum.p==='TP' && datum.g==='C'"}], "mark": {"type": "area", "orient": "horizontal", "interpolate": "monotone", "fill": "#c6c6c6", "stroke": "#4a4a4a", "strokeWidth": 0.6, "clip": true},
   "encoding": {"x": {"field": "d", "type": "quantitative", "stack": "center", "scale": {"domain": [-1.26, 2.74], "nice": false, "zero": false}, "axis": null},
    "y": {"field": "v", "type": "quantitative", "scale": {"domain": [-0.09, 5], "nice": false, "zero": false}, "axis": {"title": "TP(g/kg)", "values": [0, 1, 2, 3, 4, 5]}}}},
  {"data": {"name": "vio"}, "transform": [{"filter": "datum.p==='TP' && datum.g==='NW'"}], "mark": {"type": "area", "orient": "horizontal", "interpolate": "monotone", "fill": "#f0da2a", "stroke": "#4a4a4a", "strokeWidth": 0.6, "clip": true},
   "encoding": {"x": {"field": "d", "type": "quantitative", "stack": "center", "scale": {"domain": [-2.3, 1.7], "nice": false, "zero": false}, "axis": null},
    "y": {"field": "v", "type": "quantitative", "scale": {"domain": [-0.09, 5], "nice": false, "zero": false}, "axis": {"title": "TP(g/kg)", "values": [0, 1, 2, 3, 4, 5]}}}},
  {"data": {"name": "vio"}, "transform": [{"filter": "datum.p==='TP' && datum.g==='SW'"}], "mark": {"type": "area", "orient": "horizontal", "interpolate": "monotone", "fill": "#a4e22c", "stroke": "#4a4a4a", "strokeWidth": 0.6, "clip": true},
   "encoding": {"x": {"field": "d", "type": "quantitative", "stack": "center", "scale": {"domain": [-3.325, 0.675], "nice": false, "zero": false}, "axis": null},
    "y": {"field": "v", "type": "quantitative", "scale": {"domain": [-0.09, 5], "nice": false, "zero": false}, "axis": {"title": "TP(g/kg)", "values": [0, 1, 2, 3, 4, 5]}}}},
  {"data": {"name": "stat"}, "transform": [{"filter": "datum.p==='TP'"}],
   "encoding": {"x": {"field": "g", "type": "nominal", "scale": {"type": "band", "domain": ["E", "C", "NW", "SW"], "paddingInner": 0, "paddingOuter": 0}, "axis": {"title": null}}},
   "layer": [
    {"mark": {"type": "rule", "strokeWidth": 0.8}, "encoding": {"y": {"field": "lo", "type": "quantitative", "scale": {"domain": [-0.09, 5], "nice": false, "zero": false}, "axis": {"title": "TP(g/kg)", "values": [0, 1, 2, 3, 4, 5]}}, "y2": {"field": "hi"},
      "color": {"datum": "The range within 1.5 IQR", "type": "nominal", "scale": {"domain": ["25%~75%", "The range within 1.5 IQR", "median"], "range": ["#3a3a3a", "#3a3a3a", "#d8d8d8"]},
       "legend": {"title": null, "encode": {"symbols": {"update": {"shape": {"signal": "datum.label === 'median' ? 'circle' : datum.label === '25%~75%' ? 'M-1,-0.4H1V0.4H-1Z' : 'M0,-0.6V0.6M-0.3,-0.6H0.3M-0.3,0.6H0.3'"}, "size": {"signal": "datum.label === 'median' ? 5 : 130"}, "fill": {"signal": "datum.label === 'The range within 1.5 IQR' ? 'transparent' : datum.label === 'median' ? '#aaaaaa' : '#3a3a3a'"}, "stroke": {"signal": "datum.label === 'median' ? '#aaaaaa' : '#3a3a3a'"}, "strokeWidth": {"value": 0.8}, "opacity": {"value": 1}}}}}}}},
    {"mark": {"type": "bar", "width": 4}, "encoding": {"y": {"field": "q1", "type": "quantitative", "scale": {"domain": [-0.09, 5], "nice": false, "zero": false}, "axis": {"title": "TP(g/kg)", "values": [0, 1, 2, 3, 4, 5]}}, "y2": {"field": "q3"}, "color": {"datum": "25%~75%", "type": "nominal"}}},
    {"mark": {"type": "point", "filled": true, "size": 5, "opacity": 1}, "encoding": {"y": {"field": "med", "type": "quantitative", "scale": {"domain": [-0.09, 5], "nice": false, "zero": false}, "axis": {"title": "TP(g/kg)", "values": [0, 1, 2, 3, 4, 5]}}, "color": {"datum": "median", "type": "nominal"}}},
    {"mark": {"type": "tick", "orient": "vertical", "size": 6, "thickness": 1.3, "color": "#111111", "opacity": 1}, "encoding": {"y": {"datum": -0.09, "type": "quantitative", "scale": {"domain": [-0.09, 5], "nice": false, "zero": false}, "axis": {"title": "TP(g/kg)", "values": [0, 1, 2, 3, 4, 5]}}}}
   ]},
  {"data": {"name": "stat"}, "transform": [{"filter": "datum.p==='TP'"}],
   "encoding": {"x": {"datum": 0, "type": "quantitative", "scale": {"domain": [0, 1], "nice": false, "zero": false}, "axis": null}},
   "layer": [
    {"mark": {"type": "rule", "color": "#111111", "strokeWidth": 1.8}, "encoding": {"x2": {"datum": 1}, "y": {"datum": 5, "type": "quantitative", "scale": {"domain": [-0.09, 5], "nice": false, "zero": false}, "axis": {"title": "TP(g/kg)", "values": [0, 1, 2, 3, 4, 5]}}}},
    {"mark": {"type": "rule", "color": "#111111", "strokeWidth": 1.8}, "encoding": {"x2": {"datum": 1}, "y": {"datum": -0.09, "type": "quantitative", "scale": {"domain": [-0.09, 5], "nice": false, "zero": false}, "axis": {"title": "TP(g/kg)", "values": [0, 1, 2, 3, 4, 5]}}}},
    {"mark": {"type": "rule", "color": "#111111", "strokeWidth": 1.8}, "encoding": {"y": {"datum": -0.09, "type": "quantitative", "scale": {"domain": [-0.09, 5], "nice": false, "zero": false}, "axis": {"title": "TP(g/kg)", "values": [0, 1, 2, 3, 4, 5]}}, "y2": {"datum": 5}}},
    {"mark": {"type": "rule", "color": "#111111", "strokeWidth": 1.8}, "encoding": {"x": {"datum": 1, "type": "quantitative", "scale": {"domain": [0, 1], "nice": false, "zero": false}, "axis": null}, "y": {"datum": -0.09, "type": "quantitative", "scale": {"domain": [-0.09, 5], "nice": false, "zero": false}, "axis": {"title": "TP(g/kg)", "values": [0, 1, 2, 3, 4, 5]}}, "y2": {"datum": 5}}},
    {"data": {"values": [{"t": 0}, {"t": 1}, {"t": 2}, {"t": 3}, {"t": 4}, {"t": 5}]}, "transform": [], "mark": {"type": "tick", "orient": "horizontal", "size": 6, "thickness": 1.3, "color": "#111111", "opacity": 1}, "encoding": {"y": {"field": "t", "type": "quantitative", "scale": {"domain": [-0.09, 5], "nice": false, "zero": false}, "axis": {"title": "TP(g/kg)", "values": [0, 1, 2, 3, 4, 5]}}}}
   ]}
 ]},
{"width": 142, "height": 137,
 "resolve": {"scale": {"x": "independent"}, "axis": {"x": "independent"}},
 "layer": [
  {"data": {"name": "vio"}, "transform": [{"filter": "datum.p==='TPH' && datum.g==='E'"}], "mark": {"type": "area", "orient": "horizontal", "interpolate": "monotone", "fill": "#4f8d8d", "stroke": "#4a4a4a", "strokeWidth": 0.6, "clip": true},
   "encoding": {"x": {"field": "d", "type": "quantitative", "stack": "center", "scale": {"domain": [-0.225, 3.775], "nice": false, "zero": false}, "axis": null},
    "y": {"field": "v", "type": "quantitative", "scale": {"domain": [-2300, 25000], "nice": false, "zero": false}, "axis": {"title": "TPH(mg/kg)", "values": [0, 5000, 10000, 15000, 20000, 25000], "labelExpr": "datum.value === 0 ? '0.0' : datum.value === 5000 ? '5.0×10³' : format(datum.value / 10000, '.1f') + '×10⁴'"}}}},
  {"data": {"name": "vio"}, "transform": [{"filter": "datum.p==='TPH' && datum.g==='C'"}], "mark": {"type": "area", "orient": "horizontal", "interpolate": "monotone", "fill": "#c6c6c6", "stroke": "#4a4a4a", "strokeWidth": 0.6, "clip": true},
   "encoding": {"x": {"field": "d", "type": "quantitative", "stack": "center", "scale": {"domain": [-1.25, 2.75], "nice": false, "zero": false}, "axis": null},
    "y": {"field": "v", "type": "quantitative", "scale": {"domain": [-2300, 25000], "nice": false, "zero": false}, "axis": {"title": "TPH(mg/kg)", "values": [0, 5000, 10000, 15000, 20000, 25000], "labelExpr": "datum.value === 0 ? '0.0' : datum.value === 5000 ? '5.0×10³' : format(datum.value / 10000, '.1f') + '×10⁴'"}}}},
  {"data": {"name": "vio"}, "transform": [{"filter": "datum.p==='TPH' && datum.g==='NW'"}], "mark": {"type": "area", "orient": "horizontal", "interpolate": "monotone", "fill": "#f0da2a", "stroke": "#4a4a4a", "strokeWidth": 0.6, "clip": true},
   "encoding": {"x": {"field": "d", "type": "quantitative", "stack": "center", "scale": {"domain": [-2.35, 1.65], "nice": false, "zero": false}, "axis": null},
    "y": {"field": "v", "type": "quantitative", "scale": {"domain": [-2300, 25000], "nice": false, "zero": false}, "axis": {"title": "TPH(mg/kg)", "values": [0, 5000, 10000, 15000, 20000, 25000], "labelExpr": "datum.value === 0 ? '0.0' : datum.value === 5000 ? '5.0×10³' : format(datum.value / 10000, '.1f') + '×10⁴'"}}}},
  {"data": {"name": "vio"}, "transform": [{"filter": "datum.p==='TPH' && datum.g==='SW'"}], "mark": {"type": "area", "orient": "horizontal", "interpolate": "monotone", "fill": "#a4e22c", "stroke": "#4a4a4a", "strokeWidth": 0.6, "clip": true},
   "encoding": {"x": {"field": "d", "type": "quantitative", "stack": "center", "scale": {"domain": [-3.25, 0.75], "nice": false, "zero": false}, "axis": null},
    "y": {"field": "v", "type": "quantitative", "scale": {"domain": [-2300, 25000], "nice": false, "zero": false}, "axis": {"title": "TPH(mg/kg)", "values": [0, 5000, 10000, 15000, 20000, 25000], "labelExpr": "datum.value === 0 ? '0.0' : datum.value === 5000 ? '5.0×10³' : format(datum.value / 10000, '.1f') + '×10⁴'"}}}},
  {"data": {"name": "stat"}, "transform": [{"filter": "datum.p==='TPH'"}],
   "encoding": {"x": {"field": "g", "type": "nominal", "scale": {"type": "band", "domain": ["E", "C", "NW", "SW"], "paddingInner": 0, "paddingOuter": 0}, "axis": {"title": null}}},
   "layer": [
    {"mark": {"type": "rule", "strokeWidth": 0.8}, "encoding": {"y": {"field": "lo", "type": "quantitative", "scale": {"domain": [-2300, 25000], "nice": false, "zero": false}, "axis": {"title": "TPH(mg/kg)", "values": [0, 5000, 10000, 15000, 20000, 25000], "labelExpr": "datum.value === 0 ? '0.0' : datum.value === 5000 ? '5.0×10³' : format(datum.value / 10000, '.1f') + '×10⁴'"}}, "y2": {"field": "hi"},
      "color": {"datum": "The range within 1.5 IQR", "type": "nominal", "scale": {"domain": ["25%~75%", "The range within 1.5 IQR", "median"], "range": ["#3a3a3a", "#3a3a3a", "#d8d8d8"]},
       "legend": {"title": null, "encode": {"symbols": {"update": {"shape": {"signal": "datum.label === 'median' ? 'circle' : datum.label === '25%~75%' ? 'M-1,-0.4H1V0.4H-1Z' : 'M0,-0.6V0.6M-0.3,-0.6H0.3M-0.3,0.6H0.3'"}, "size": {"signal": "datum.label === 'median' ? 5 : 130"}, "fill": {"signal": "datum.label === 'The range within 1.5 IQR' ? 'transparent' : datum.label === 'median' ? '#aaaaaa' : '#3a3a3a'"}, "stroke": {"signal": "datum.label === 'median' ? '#aaaaaa' : '#3a3a3a'"}, "strokeWidth": {"value": 0.8}, "opacity": {"value": 1}}}}}}}},
    {"mark": {"type": "bar", "width": 4}, "encoding": {"y": {"field": "q1", "type": "quantitative", "scale": {"domain": [-2300, 25000], "nice": false, "zero": false}, "axis": {"title": "TPH(mg/kg)", "values": [0, 5000, 10000, 15000, 20000, 25000], "labelExpr": "datum.value === 0 ? '0.0' : datum.value === 5000 ? '5.0×10³' : format(datum.value / 10000, '.1f') + '×10⁴'"}}, "y2": {"field": "q3"}, "color": {"datum": "25%~75%", "type": "nominal"}}},
    {"mark": {"type": "point", "filled": true, "size": 5, "opacity": 1}, "encoding": {"y": {"field": "med", "type": "quantitative", "scale": {"domain": [-2300, 25000], "nice": false, "zero": false}, "axis": {"title": "TPH(mg/kg)", "values": [0, 5000, 10000, 15000, 20000, 25000], "labelExpr": "datum.value === 0 ? '0.0' : datum.value === 5000 ? '5.0×10³' : format(datum.value / 10000, '.1f') + '×10⁴'"}}, "color": {"datum": "median", "type": "nominal"}}},
    {"mark": {"type": "tick", "orient": "vertical", "size": 6, "thickness": 1.3, "color": "#111111", "opacity": 1}, "encoding": {"y": {"datum": -2300, "type": "quantitative", "scale": {"domain": [-2300, 25000], "nice": false, "zero": false}, "axis": {"title": "TPH(mg/kg)", "values": [0, 5000, 10000, 15000, 20000, 25000], "labelExpr": "datum.value === 0 ? '0.0' : datum.value === 5000 ? '5.0×10³' : format(datum.value / 10000, '.1f') + '×10⁴'"}}}}
   ]},
  {"data": {"name": "stat"}, "transform": [{"filter": "datum.p==='TPH'"}],
   "encoding": {"x": {"datum": 0, "type": "quantitative", "scale": {"domain": [0, 1], "nice": false, "zero": false}, "axis": null}},
   "layer": [
    {"mark": {"type": "rule", "color": "#111111", "strokeWidth": 1.8}, "encoding": {"x2": {"datum": 1}, "y": {"datum": 25000, "type": "quantitative", "scale": {"domain": [-2300, 25000], "nice": false, "zero": false}, "axis": {"title": "TPH(mg/kg)", "values": [0, 5000, 10000, 15000, 20000, 25000], "labelExpr": "datum.value === 0 ? '0.0' : datum.value === 5000 ? '5.0×10³' : format(datum.value / 10000, '.1f') + '×10⁴'"}}}},
    {"mark": {"type": "rule", "color": "#111111", "strokeWidth": 1.8}, "encoding": {"x2": {"datum": 1}, "y": {"datum": -2300, "type": "quantitative", "scale": {"domain": [-2300, 25000], "nice": false, "zero": false}, "axis": {"title": "TPH(mg/kg)", "values": [0, 5000, 10000, 15000, 20000, 25000], "labelExpr": "datum.value === 0 ? '0.0' : datum.value === 5000 ? '5.0×10³' : format(datum.value / 10000, '.1f') + '×10⁴'"}}}},
    {"mark": {"type": "rule", "color": "#111111", "strokeWidth": 1.8}, "encoding": {"y": {"datum": -2300, "type": "quantitative", "scale": {"domain": [-2300, 25000], "nice": false, "zero": false}, "axis": {"title": "TPH(mg/kg)", "values": [0, 5000, 10000, 15000, 20000, 25000], "labelExpr": "datum.value === 0 ? '0.0' : datum.value === 5000 ? '5.0×10³' : format(datum.value / 10000, '.1f') + '×10⁴'"}}, "y2": {"datum": 25000}}},
    {"mark": {"type": "rule", "color": "#111111", "strokeWidth": 1.8}, "encoding": {"x": {"datum": 1, "type": "quantitative", "scale": {"domain": [0, 1], "nice": false, "zero": false}, "axis": null}, "y": {"datum": -2300, "type": "quantitative", "scale": {"domain": [-2300, 25000], "nice": false, "zero": false}, "axis": {"title": "TPH(mg/kg)", "values": [0, 5000, 10000, 15000, 20000, 25000], "labelExpr": "datum.value === 0 ? '0.0' : datum.value === 5000 ? '5.0×10³' : format(datum.value / 10000, '.1f') + '×10⁴'"}}, "y2": {"datum": 25000}}},
    {"data": {"values": [{"t": 0}, {"t": 5000}, {"t": 10000}, {"t": 15000}, {"t": 20000}, {"t": 25000}]}, "transform": [], "mark": {"type": "tick", "orient": "horizontal", "size": 6, "thickness": 1.3, "color": "#111111", "opacity": 1}, "encoding": {"y": {"field": "t", "type": "quantitative", "scale": {"domain": [-2300, 25000], "nice": false, "zero": false}, "axis": {"title": "TPH(mg/kg)", "values": [0, 5000, 10000, 15000, 20000, 25000], "labelExpr": "datum.value === 0 ? '0.0' : datum.value === 5000 ? '5.0×10³' : format(datum.value / 10000, '.1f') + '×10⁴'"}}}}
   ]}
 ]}
], "resolve": {"scale": {"color": "independent"}, "legend": {"color": "independent"}}}
],
"config": {
 "view": {"stroke": "#111111", "strokeWidth": 1},
 "axis": {"grid": false, "domain": false, "ticks": false, "labelFont": "Liberation Serif", "labelFontWeight": "bold", "labelFontSize": 7, "labelColor": "#222222", "titleFont": "Liberation Serif", "titleFontWeight": "bold", "titleFontSize": 11, "titleColor": "#111111", "labelPadding": 5, "titlePadding": 4, "labelOverlap": false},
 "axisX": {"labelFontSize": 8, "labelAngle": 0, "labelPadding": 4},
 "legend": {"orient": "top-left", "direction": "horizontal", "columns": 2, "labelFont": "Liberation Serif", "labelFontWeight": "bold", "labelFontSize": 6, "labelColor": "#222222", "symbolSize": 130, "offset": 4, "padding": 1, "rowPadding": 0, "columnPadding": 5, "labelOffset": 2, "labelLimit": 200}
}
}
